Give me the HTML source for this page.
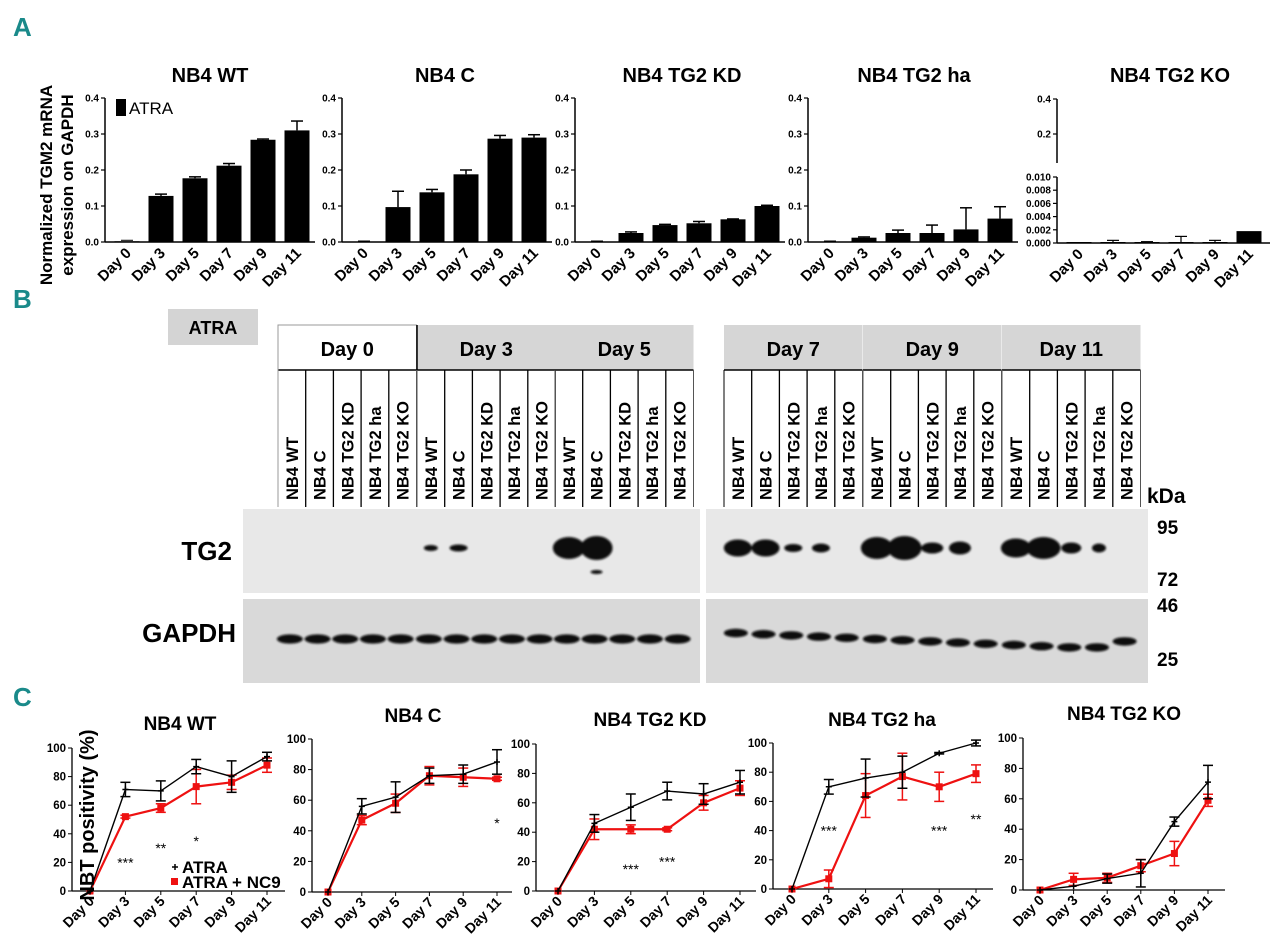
<!DOCTYPE html>
<html><head><meta charset="utf-8"><style>
html,body{margin:0;padding:0;background:#fff;}
svg{display:block;font-family:"Liberation Sans",Arial,sans-serif;}
</style></head><body>
<svg id="fig" width="1280" height="950" viewBox="0 0 1280 950" xmlns="http://www.w3.org/2000/svg">
<defs><filter id="blur1" x="-50%" y="-50%" width="200%" height="200%"><feGaussianBlur stdDeviation="1.1"/></filter></defs>
<g fill="#1a8a8a" font-size="26" font-weight="bold" font-family="'Liberation Sans Narrow','Liberation Sans',sans-serif">
<text x="13" y="36">A</text>
<text x="13" y="308">B</text>
<text x="13" y="706">C</text>
</g>
<g id="panelA"></g>
<g id="panelB"></g>
<g id="panelC"></g>
</svg>
<script>
// ---------- Panel A data ----------
const daysA = ["Day 0","Day 3","Day 5","Day 7","Day 9","Day 11"];
const titlesA = ["NB4 WT","NB4 C","NB4 TG2 KD","NB4 TG2 ha","NB4 TG2 KO"];
const ticksA = [0.0,0.1,0.2,0.3,0.4];
const wtA = [0.002,0.128,0.177,0.212,0.284,0.31];
const wtAerr = [0,0.005,0.004,0.006,0.002,0.026];
const cA = [0,0.097,0.138,0.188,0.287,0.29];
const cAerr = [0,0.044,0.008,0.012,0.009,0.008];
const kdA = [0,0.025,0.047,0.052,0.063,0.1];
const kdAerr = [0,0.003,0.002,0.005,0.001,0.002];
const haA = [0,0.012,0.025,0.025,0.035,0.065];
const haAerr = [0,0.002,0.008,0.022,0.06,0.033];
const koA = [0.0001,0.0001,0.0001,0.0001,0.0001,0.0018];
const koAerr = [0,0.0003,0.0001,0.0009,0.0003,0];
const koTicksLow = [0.000,0.002,0.004,0.006,0.008,0.010];
const koTicksHigh = [0.2,0.4];

// ---------- Panel C data ----------
const daysC = ["Day 0","Day 3","Day 5","Day 7","Day 9","Day 11"];
const titlesC = ["NB4 WT","NB4 C","NB4 TG2 KD","NB4 TG2 ha","NB4 TG2 KO"];
const ticksC = [0,20,40,60,80,100];
const wtAtra = [0,71,70,87,80,94];
const wtAtraErr = [0,5,7,5,11,3];
const wtNc9 = [0,52,58,73,76,88];
const wtNc9Err = [0,1,3,12,5,5];
const cAtra = [0,56,62,76,77,85];
const cAtraErr = [0,5,10,5,6,8];
const cNc9 = [0,47,58,76,75,74];
const cNc9Err = [0,3,6,6,6,1];
const kdAtra = [0,46,57,68,66,74];
const kdAtraErr = [0,6,9,6,7,8];
const kdNc9 = [0,42,42,42,60,70];
const kdNc9Err = [0,7,3,1,5,5];
const haAtra = [0,70,76,80,93,100];
const haAtraErr = [0,5,13,11,0.5,2];
const haNc9 = [0,7,64,77,70,79];
const haNc9Err = [0,6,15,16,10,6];
const koAtra = [0,2.5,7.5,11,45,71];
const koAtraErr = [0,0,3,9,3,11];
const koNc9 = [0,7,8,16,24,59];
const koNc9Err = [0,4,3,4,8,4];
const starLabels = [["***","**","*"],["*"],["***","***"],["***","***","**"],[]];
const starDays = [[1,2,3],[5],[2,3],[1,4,5],[]];
const starVals = [[20,30,35],[45],[15,20],[40,40,48],[]];

const NS="http://www.w3.org/2000/svg";
function mk(parent,tag,attrs,text){const e=document.createElementNS(NS,tag);for(const k in attrs)e.setAttribute(k,attrs[k]);if(text!==undefined)e.textContent=text;parent.appendChild(e);return e;}

// ---------- Panel A ----------
const pA=document.getElementById('panelA');
const axXA=[105,342,575,808,1057];
const titleXA=[210,445,682,914,1170];
const seriesA=[wtA,cA,kdA,haA];
const errA=[wtAerr,cAerr,kdAerr,haAerr];
const y0A=242, yTopA=98;
function yA(v){return y0A-(v/0.4)*(y0A-yTopA);}
let yt=mk(pA,'text',{transform:'translate(52,185) rotate(-90)','text-anchor':'middle','font-size':'17','font-weight':'bold'});


mk(yt,'tspan',{x:0,dy:0},'Normalized TGM2 mRNA');
mk(yt,'tspan',{x:0,dy:21},'expression on GAPDH');
for(let c=0;c<5;c++){
  const g=mk(pA,'g',{});
  
  
  const t=mk(g,'text',{x:titleXA[c],y:82,'text-anchor':'middle','font-size':'20','font-weight':'bold'},titlesA[c]);
  
  
  const ax=axXA[c];
  const cx=i=>ax+22+i*34;
  if(c<4){
    mk(g,'line',{x1:ax,y1:yTopA,x2:ax,y2:y0A,stroke:'#000','stroke-width':1.5});
    ticksA.forEach(tv=>{mk(g,'line',{x1:ax-4,y1:yA(tv),x2:ax,y2:yA(tv),stroke:'#000','stroke-width':1.2});
      mk(g,'text',{x:ax-6,y:yA(tv)+3.5,'text-anchor':'end','font-size':'10','font-weight':'bold'},tv.toFixed(1));});
    mk(g,'line',{x1:ax,y1:y0A,x2:ax+210,y2:y0A,stroke:'#000','stroke-width':1.5});
    const s=seriesA[c],e=errA[c];
    for(let i=0;i<6;i++){
      const top=yA(s[i]);
      const r=mk(g,'rect',{x:cx(i)-12.5,y:top,width:25,height:y0A-top,fill:'#000'});
      
      
      if(e[i]>0){const et=yA(s[i]+e[i]);mk(g,'line',{x1:cx(i),y1:top,x2:cx(i),y2:et,stroke:'#000','stroke-width':1.5});mk(g,'line',{x1:cx(i)-6,y1:et,x2:cx(i)+6,y2:et,stroke:'#000','stroke-width':1.5});}
      else mk(g,'line',{x1:cx(i)-6,y1:top-1,x2:cx(i)+6,y2:top-1,stroke:'#000','stroke-width':1});
    }
  } else {
    const yHi=v=>99+(0.4-v)/0.2*35;
    mk(g,'line',{x1:ax,y1:99,x2:ax,y2:163,stroke:'#000','stroke-width':1.5});
    koTicksHigh.forEach(tv=>{mk(g,'line',{x1:ax-4,y1:yHi(tv),x2:ax,y2:yHi(tv),stroke:'#000','stroke-width':1.2});
      mk(g,'text',{x:ax-6,y:yHi(tv)+3.5,'text-anchor':'end','font-size':'10','font-weight':'bold'},tv.toFixed(1));});
    const yLo=v=>243-(v/0.010)*66;
    mk(g,'line',{x1:ax,y1:177,x2:ax,y2:243,stroke:'#000','stroke-width':1.5});
    koTicksLow.forEach(tv=>{mk(g,'line',{x1:ax-4,y1:yLo(tv),x2:ax,y2:yLo(tv),stroke:'#000','stroke-width':1.2});
      mk(g,'text',{x:ax-6,y:yLo(tv)+3.5,'text-anchor':'end','font-size':'10','font-weight':'bold'},tv.toFixed(3));});
    mk(g,'line',{x1:ax,y1:243,x2:ax+213,y2:243,stroke:'#000','stroke-width':1.5});
    for(let i=0;i<6;i++){
      const top=Math.min(yLo(koA[i]),242);
      const r=mk(g,'rect',{x:cx(i)-12.5,y:top,width:25,height:Math.max(243-top,1.5),fill:'#000'});
      
      
      if(koAerr[i]>0){const et=yLo(koA[i]+koAerr[i]);mk(g,'line',{x1:cx(i),y1:top,x2:cx(i),y2:et,stroke:'#000','stroke-width':1.2});mk(g,'line',{x1:cx(i)-6,y1:et,x2:cx(i)+6,y2:et,stroke:'#000','stroke-width':1.2});}
    }
  }
  const yb=(c<4?y0A:243);
  for(let i=0;i<6;i++){
    const tl=mk(g,'text',{transform:`translate(${cx(i)+5},${yb+12}) rotate(-45)`,'text-anchor':'end','font-size':'15','font-weight':'bold'},daysA[i]);
    
    
  }
}
const lgA=mk(pA,'g',{});


mk(lgA,'rect',{x:116,y:99,width:10,height:17,fill:'#000'});
mk(lgA,'text',{x:129,y:114,'font-size':'17'},'ATRA');

// ---------- Panel B ----------
const pB=document.getElementById('panelB');
const lanes=["NB4 WT","NB4 C","NB4 TG2 KD","NB4 TG2 ha","NB4 TG2 KO"];
const dayB=["Day 0","Day 3","Day 5","Day 7","Day 9","Day 11"];
const atra=mk(pB,'g',{});


mk(atra,'rect',{x:168,y:309,width:90,height:36,fill:'#d4d4d4'});
mk(atra,'text',{x:213,y:334,'text-anchor':'middle','font-size':'18','font-weight':'bold'},'ATRA');
const lw=27.7;
const groupX=[278,417,555,724,863,1002];
dayB.forEach((d,k)=>{
  const gx=groupX[k];
  const hg=mk(pB,'g',{});
  
  
  mk(hg,'rect',{x:gx,y:325,width:lw*5,height:45,fill:k==0?'#fff':'#d6d6d6',stroke:k==0?'#999':'none','stroke-width':1});
  mk(hg,'text',{x:gx+lw*2.5,y:356,'text-anchor':'middle','font-size':'20','font-weight':'bold'},d);
  mk(pB,'line',{x1:gx,y1:370,x2:gx+lw*5,y2:370,stroke:'#000','stroke-width':1.5});
  for(let j=0;j<=5;j++){mk(pB,'line',{x1:gx+j*lw,y1:370,x2:gx+j*lw,y2:507,stroke:(j==0&&k!=3)||j==5?'#555':'#000','stroke-width':j==0||j==5?1:1.3});}
  lanes.forEach((ln,j)=>{
    const t=mk(pB,'text',{transform:`translate(${gx+j*lw+lw/2+6},500) rotate(-90)`,'font-size':'16.5','font-weight':'bold'},ln);
    
    
  });
});
mk(pB,'line',{x1:278,y1:325,x2:278,y2:507,stroke:'#999'});
mk(pB,'line',{x1:417,y1:325,x2:417,y2:370,stroke:'#000','stroke-width':1.5});
const blots=[[243,509,457,84,'tg2-blot-left'],[706,509,442,84,'tg2-blot-right'],[243,599,457,84,'gapdh-blot-left'],[706,599,442,84,'gapdh-blot-right']];
blots.forEach(b=>{const r=mk(pB,'rect',{x:b[0],y:b[1],width:b[2],height:b[3],fill:b[1]>590?'#d9d9d9':'#e8e8e8'});});
const lane=(k,j)=>groupX[k]+lw*(j+0.5);
const bands=mk(pB,'g',{filter:'url(#blur1)',fill:'#0a0a0a'});


const tg2=[[1,0,7,3],[1,1,9,3.5],[2,0,16,11],[2,1,16,12],[3,0,14,8.5],[3,1,14,8.5],[3,2,9,4],[3,3,9,4.5],[4,0,16,11],[4,1,17,12],[4,2,11,5.5],[4,3,11,6.5],[5,0,15,9.5],[5,1,17,11],[5,2,10,5.5],[5,3,7,4.5]];
tg2.forEach(b=>mk(bands,'ellipse',{cx:lane(b[0],b[1]),cy:548,rx:b[2],ry:b[3]}));
mk(bands,'ellipse',{cx:lane(2,1),cy:572,rx:6,ry:2});
for(let k=0;k<3;k++)for(let j=0;j<5;j++)mk(bands,'ellipse',{cx:lane(k,j)-2,cy:639,rx:13,ry:4.6});
for(let k=3;k<6;k++)for(let j=0;j<5;j++){const idx=(k-3)*5+j;const cy=633+Math.min(idx,12)*1.2-(idx==14?6:0);mk(bands,'ellipse',{cx:lane(k,j)-2,cy:cy,rx:12,ry:4.2});}
const lbl=mk(pB,'g',{'font-weight':'bold'});


mk(lbl,'text',{x:232,y:560,'text-anchor':'end','font-size':'26'},'TG2');
mk(lbl,'text',{x:236,y:642,'text-anchor':'end','font-size':'26'},'GAPDH');
mk(lbl,'text',{x:1147,y:503,'font-size':'21'},'kDa');
mk(lbl,'text',{x:1157,y:534,'font-size':'19'},'95');
mk(lbl,'text',{x:1157,y:586,'font-size':'19'},'72');
mk(lbl,'text',{x:1157,y:612,'font-size':'19'},'46');
mk(lbl,'text',{x:1157,y:666,'font-size':'19'},'25');

// ---------- Panel C ----------
const pC=document.getElementById('panelC');
const geo=[{ax:72,top:748,y0:891,d0:90,d11:267,end:285,tx:180,ty:730},
{ax:312,top:739,y0:892,d0:328,d11:497,end:512,tx:413,ty:722},
{ax:536,top:744,y0:891,d0:558,d11:740,end:756,tx:650,ty:726},
{ax:773,top:743,y0:889,d0:792,d11:976,end:993,tx:882,ty:726},
{ax:1023,top:738,y0:890,d0:1040,d11:1208,end:1225,tx:1124,ty:720}];
const blackC=[wtAtra,cAtra,kdAtra,haAtra,koAtra];
const blackErr=[wtAtraErr,cAtraErr,kdAtraErr,haAtraErr,koAtraErr];
const redC=[wtNc9,cNc9,kdNc9,haNc9,koNc9];
const redErr=[wtNc9Err,cNc9Err,kdNc9Err,haNc9Err,koNc9Err];
geo.forEach((G,c)=>{
  const g=mk(pC,'g',{});
  
  
  const xs=i=>G.d0+(G.d11-G.d0)*i/5;
  const ys=v=>G.y0-(v/100)*(G.y0-G.top);
  const t=mk(g,'text',{x:G.tx,y:G.ty,'text-anchor':'middle','font-size':'19','font-weight':'bold'},titlesC[c]);
  
  
  mk(g,'line',{x1:G.ax,y1:G.top,x2:G.ax,y2:G.y0,stroke:'#000','stroke-width':1.3});
  mk(g,'line',{x1:G.ax,y1:G.y0,x2:G.end,y2:G.y0,stroke:'#000','stroke-width':1.3});
  ticksC.forEach(tv=>{mk(g,'line',{x1:G.ax-4,y1:ys(tv),x2:G.ax,y2:ys(tv),stroke:'#000'});
    mk(g,'text',{x:G.ax-6,y:ys(tv)+4,'text-anchor':'end','font-size':'11.5','font-weight':'bold'},String(tv));});
  for(let i=0;i<6;i++){mk(g,'line',{x1:xs(i),y1:G.y0,x2:xs(i),y2:G.y0+4,stroke:'#000'});
    const tl=mk(g,'text',{transform:`translate(${xs(i)+5},${G.y0+11}) rotate(-45)`,'text-anchor':'end','font-size':'14','font-weight':'bold'},daysC[i]);
    
    }
  [[redC[c],redErr[c],'#ee1111',2.2,'series-atra-nc9'],[blackC[c],blackErr[c],'#000',1.4,'series-atra']].forEach(S=>{
    const sg=mk(g,'g',{});
    
    
    for(let i=0;i<6;i++){if(S[1][i]>0){const x=xs(i),a=ys(S[0][i]+S[1][i]),b=ys(S[0][i]-S[1][i]);
      mk(sg,'line',{x1:x,y1:a,x2:x,y2:b,stroke:S[2],'stroke-width':1.5});
      mk(sg,'line',{x1:x-5,y1:a,x2:x+5,y2:a,stroke:S[2],'stroke-width':1.5});
      mk(sg,'line',{x1:x-5,y1:b,x2:x+5,y2:b,stroke:S[2],'stroke-width':1.5});}}
    mk(sg,'polyline',{points:S[0].map((v,i)=>xs(i)+','+ys(v)).join(' '),fill:'none',stroke:S[2],'stroke-width':S[3]});
    for(let i=0;i<6;i++){if(S[2]=='#000')mk(sg,'path',{d:`M${xs(i)-3},${ys(S[0][i])}h6M${xs(i)},${ys(S[0][i])-3}v6`,stroke:'#000','stroke-width':1.5});
      else mk(sg,'rect',{x:xs(i)-3.5,y:ys(S[0][i])-3.5,width:7,height:7,fill:'#ee1111'});}
  });
  starLabels[c].forEach((s,k)=>{const st=mk(g,'text',{x:xs(starDays[c][k]),y:ys(starVals[c][k])+5,'text-anchor':'middle','font-size':'14'},s);
    
    });
});
const ytc=mk(pC,'text',{transform:'translate(94,815) rotate(-90)','text-anchor':'middle','font-size':'20','font-weight':'bold'},'NBT positivity (%)');


const lgC=mk(pC,'g',{});


mk(lgC,'path',{d:'M172,867h6M175,864v6',stroke:'#000','stroke-width':1.5});
mk(lgC,'text',{x:182,y:873,'font-size':'17','font-weight':'bold'},'ATRA');
mk(lgC,'rect',{x:171,y:878,width:7,height:7,fill:'#ee1111'});
mk(lgC,'text',{x:182,y:888,'font-size':'17','font-weight':'bold'},'ATRA + NC9');
</script>
</body></html>
